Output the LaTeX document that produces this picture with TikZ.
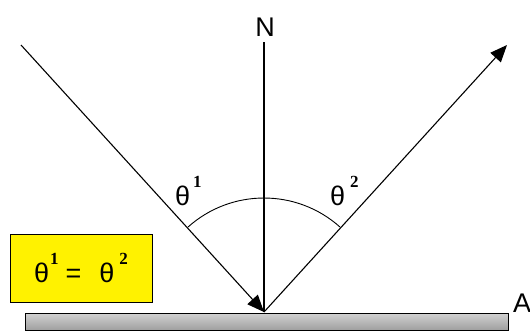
\documentclass[tikz,border=0pt]{standalone}
\usepackage{fontspec}
\setmainfont{Liberation Sans}
\newfontfamily\supfont{Liberation Serif}
\usetikzlibrary{arrows.meta}

\tikzset{
  ray/.style={line width=1.1pt, -{Triangle[length=17pt, width=14pt]}},
  lbl/.style={font=\fontsize{27}{29}\selectfont, inner sep=0pt},
  mirror/.style={draw=black, line width=1pt, top color=gray!35, middle color=white,
    bottom color=gray!75, minimum width=483pt, minimum height=17pt, inner sep=0pt},
  rulebox/.style={draw=black, line width=1pt, fill=yellow, minimum width=142pt,
    minimum height=68pt, inner sep=0pt, font=\fontsize{27}{29}\selectfont}
}
\newcommand{\upidx}[1]{\raisebox{18pt}{\supfont\bfseries\fontsize{17}{17}\selectfont #1}}

\begin{document}
\begin{tikzpicture}[x=1pt, y=-1pt]
  \useasboundingbox[fill=white] (0,0) rectangle (530,333);

  % points of the ray picture
  \coordinate (hit) at (264,312);
  \coordinate (src) at (21,45);
  \coordinate (dst) at (507,45);
  \coordinate (ntop) at (264,42);

  % mirror
  \node[mirror] (mir) at (266.5,321.5) {};
  \node[lbl] (a) at (522,303) {A};

  % normal
  \node[lbl] (n) at (265,27) {N};
  \draw[line width=1.1pt] (hit) -- (ntop);

  % incident and reflected rays
  \draw[ray] (src) -- (hit);
  \draw[ray] (hit) -- (dst);

  % angle arc
  \draw[line width=0.9pt] (hit) ++(-48.2:114) arc[start angle=-48.2, end angle=-131.8, radius=114];

  % angle labels
  \node[lbl, anchor=west] (t1) at (175,191) {θ\kern3pt\upidx{1}};
  \node[lbl, anchor=west] (t2) at (330,191) {θ\kern5pt\upidx{2}};

  % rule box
  \node[rulebox] (rule) at (81,268) {θ\kern1pt\upidx{1}\kern7pt=\kern18ptθ\kern5pt\upidx{2}};
\end{tikzpicture}
\end{document}
